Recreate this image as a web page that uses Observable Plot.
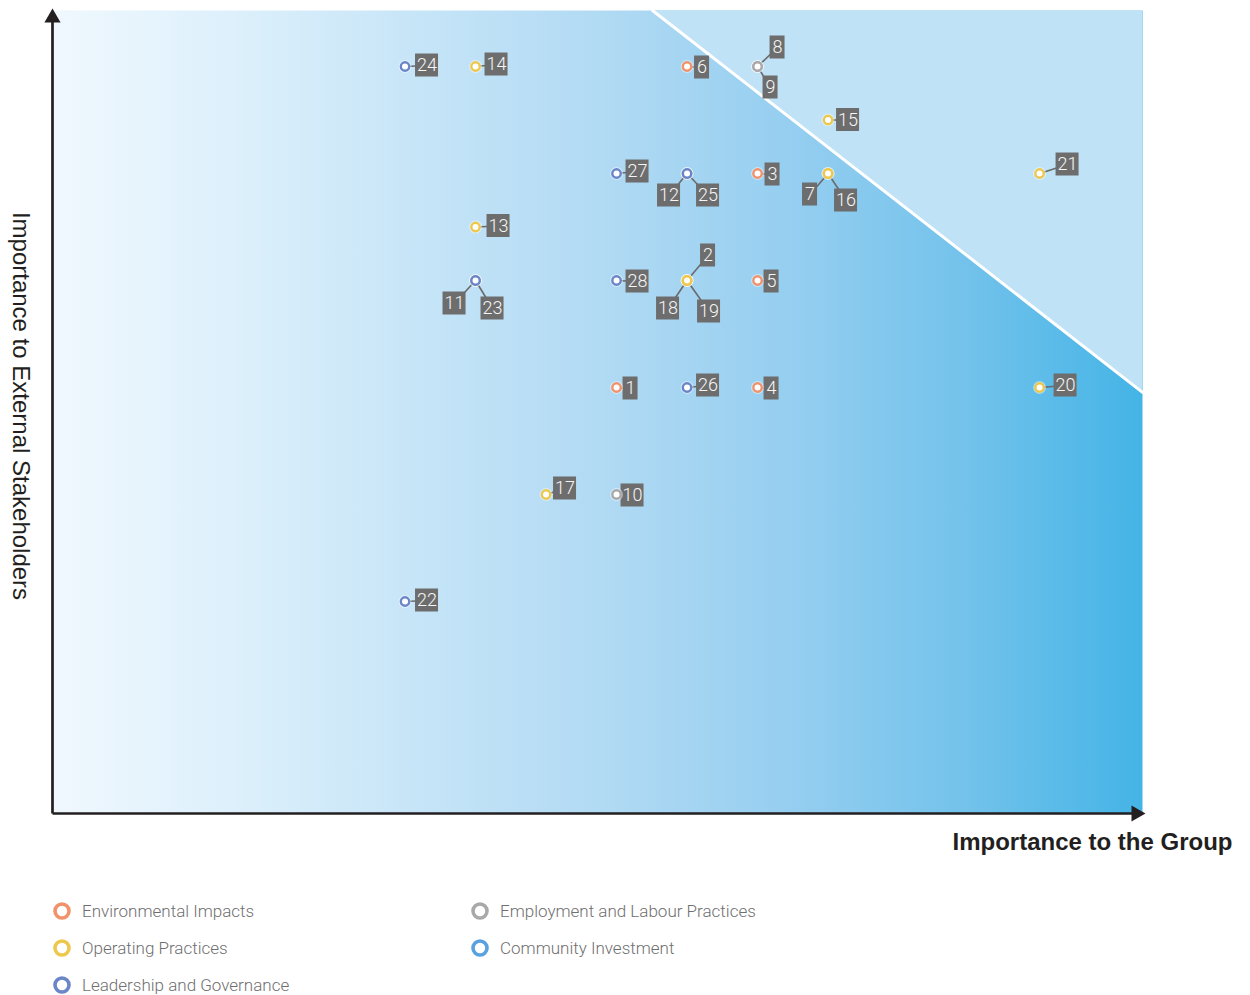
<!DOCTYPE html>
<html>
<head>
<meta charset="utf-8">
<script src="https://cdn.jsdelivr.net/npm/d3@7"></script>
<script src="https://cdn.jsdelivr.net/npm/@observablehq/plot@0.6"></script>
<style>
  body { margin: 0; background: #fff; }
  #wrap { position: relative; width: 1250px; height: 995px; overflow: hidden; }
  #chart svg { display: block; }
  .legend { position: absolute; left: 52px; top: 892px; display: grid;
            grid-template-columns: 418px 400px; grid-template-rows: repeat(3, 37px);
            grid-auto-flow: column; }
  .item { display: flex; align-items: center; gap: 10px; font-family: Roboto, "Liberation Sans", Arial, sans-serif;
          font-weight: 300; font-size: 17px; color: #6f6f6f; }
  .item svg { flex: none; }
</style>
</head>
<body>
<div id="wrap">
  <div id="chart"></div>
  <div class="legend" id="legend"></div>
</div>
<script>
// ---------------- data ----------------
const categories = ["Environmental Impacts", "Operating Practices", "Leadership and Governance",
                    "Employment and Labour Practices", "Community Investment"];
const categoryColors = ["#f2926b", "#eec84c", "#6b86c8", "#a9a9a9", "#5aa2de"];

const itemIds =        [1, 2, 3, 4, 5, 6, 7, 8, 9, 10, 11, 12, 13, 14, 15, 16, 17, 18, 19, 20, 21, 22, 23, 24, 25, 26, 27, 28];
const importanceGroup = [8, 9,10,10,10, 9,11,10,10,  8,  6,  9,  6,  6, 11, 11,  7,  9,  9, 14, 14,  5,  6,  5,  9,  9,  8,  8];
const importanceStake = [8,10,12, 8,10,14,12,14,14,  6, 10, 12, 11, 14, 13, 12,  6, 10, 10,  8, 12,  4, 10, 14, 12,  8, 12, 10];
const itemCategory = [0, 1, 0, 0, 0, 0, 1, 3, 3, 3, 3, 3, 1, 1, 1, 1, 1, 1, 1, 1, 1, 2, 2, 2, 2, 2, 2, 2];

// materiality threshold line (data units)
const thresholdX = [8.51, 15.46];
const thresholdY = [15.047, 7.91];

const xLabel = "Importance to the Group";
const yLabel = "Importance to External Stakeholders";

// ---------------- layout (label leader offsets in px) ----------------
const labelOffset = {
  1:[14,1], 2:[21,-25], 3:[15,1], 4:[14,1], 5:[14,1], 6:[15,1], 7:[-18,21], 8:[20,-19], 9:[13,21],
  10:[16,1], 11:[-21,23], 12:[-18,22], 13:[23,-1], 14:[21,-2], 15:[20,0], 16:[18,27], 17:[19,-6],
  18:[-19,28], 19:[22,31], 20:[26,-2], 21:[28,-9], 22:[22,-1], 23:[17,28], 24:[22,-1], 25:[21,22],
  26:[21,-2], 27:[21,-2], 28:[21,1]
};

const W = 1250, H = 870, mL = 52, mR = 108, mT = 10, mB = 57;
const xDomain = [0, 15.46], yDomain = [0.037, 15.047];
const kx = (W - mL - mR) / (xDomain[1] - xDomain[0]);
const ky = (H - mT - mB) / (yDomain[1] - yDomain[0]);

const items = itemIds.map((id, i) => {
  const [dx, dy] = labelOffset[id];
  const x = importanceGroup[i], y = importanceStake[i];
  const lx = x + dx / kx, ly = y - dy / ky;
  const bw = String(id).length === 1 ? 15 : 23, bh = 23;
  return {id, x, y, cat: categories[itemCategory[i]], lx, ly,
          bx1: lx - bw / 2 / kx, bx2: lx + bw / 2 / kx, by1: ly - bh / 2 / ky, by2: ly + bh / 2 / ky};
});
const threshold = thresholdX.map((x, i) => ({x, y: thresholdY[i]}));

// axis arrow geometry (shaft ends + arrowhead centroid, derived from the domains)
const headR = 6, headTipOut = 2, headCentroidBack = 2 * Math.sqrt(Math.PI * headR * headR / (Math.sqrt(3) * 3));
const yHeadY = yDomain[1] + (headTipOut - headCentroidBack) / ky;
const xHeadX = xDomain[1] + (headTipOut + 1 - headCentroidBack) / kx;

const axisColor = "#231f20";

const svg = Plot.plot({
  width: W, height: H,
  marginLeft: mL, marginRight: mR, marginTop: mT, marginBottom: mB,
  x: {domain: xDomain, axis: null},
  y: {domain: yDomain, axis: null},
  color: {domain: categories, range: categoryColors},
  style: {fontFamily: "'Liberation Sans', Arial, sans-serif", background: "white", overflow: "visible"},
  marks: [
    Plot.frame({fill: "url(#bg)", stroke: "none"}),
    Plot.areaY(threshold, {x: "x", y1: "y", y2: yDomain[1], fill: "#bfe2f6"}),
    Plot.line(threshold, {x: "x", y: "y", stroke: "white", strokeWidth: 3}),
    // axes with arrowheads
    Plot.link([{x1: xDomain[0], y1: yDomain[0], x2: xDomain[0], y2: yHeadY}],
      {x1: "x1", y1: "y1", x2: "x2", y2: "y2", stroke: axisColor, strokeWidth: 2.7}),
    Plot.link([{x1: xDomain[0], y1: yDomain[0], x2: xHeadX, y2: yDomain[0]}],
      {x1: "x1", y1: "y1", x2: "x2", y2: "y2", stroke: axisColor, strokeWidth: 2.7}),
    Plot.dot([{x: xDomain[0], y: yHeadY}], {x: "x", y: "y", symbol: "triangle", r: headR, fill: axisColor, stroke: "none"}),
    Plot.dot([{x: xHeadX, y: yDomain[0]}], {x: "x", y: "y", symbol: "triangle", r: headR, fill: axisColor, stroke: "none", rotate: 90}),
    // labels
    Plot.link(items, {x1: "x", y1: "y", x2: "lx", y2: "ly", stroke: "#6a6a6a", strokeWidth: 1.6}),
    Plot.rect(items, {x1: "bx1", x2: "bx2", y1: "by1", y2: "by2", fill: "#6d6d6d"}),
    Plot.text(items, {x: "lx", y: "ly", text: d => String(d.id), fill: "#f6f6f6", fontSize: 18,
      fontWeight: 300, fontFamily: "Roboto, 'Liberation Sans', Arial, sans-serif"}),
    Plot.dot(items, {x: "x", y: "y", r: 6.5, fill: "white", fillOpacity: 0.45}),
    Plot.dot(items, {x: "x", y: "y", r: 4.2, fill: "white", stroke: "cat", strokeWidth: 2.4}),
    Plot.text([xLabel], {frameAnchor: "bottom-right", text: d => d, textAnchor: "end", lineAnchor: "middle",
      dx: 90, dy: 29, fontSize: 24, fontWeight: "bold", fill: axisColor}),
    Plot.text([yLabel], {frameAnchor: "left", text: d => d, textAnchor: "middle", lineAnchor: "middle",
      rotate: 90, dx: -32, dy: -6, fontSize: 24, fill: axisColor})
  ]
});

// gradient definition for the background
const defs = d3.select(svg).insert("defs", ":first-child");
const grad = defs.append("linearGradient").attr("id", "bg")
  .attr("x1", "0").attr("x2", "1").attr("y1", "0").attr("y2", "0");
[[0, "#f0f8fe"], [0.18, "#dbeffb"], [0.36, "#c3e3f7"], [0.52, "#afd9f3"],
 [0.68, "#95cef0"], [0.84, "#72c2eb"], [1, "#44b4e6"]]
  .forEach(([o, c]) => grad.append("stop").attr("offset", o).attr("stop-color", c));

document.getElementById("chart").appendChild(svg);

// legend
const legend = d3.select("#legend");
categories.forEach((c, i) => {
  const it = legend.append("div").attr("class", "item");
  const s = it.append("svg").attr("width", 20).attr("height", 20);
  s.append("circle").attr("cx", 10).attr("cy", 10).attr("r", 7)
    .attr("fill", "white").attr("stroke", categoryColors[i]).attr("stroke-width", 3.6);
  it.append("span").text(c);
});
</script>
</body>
</html>
